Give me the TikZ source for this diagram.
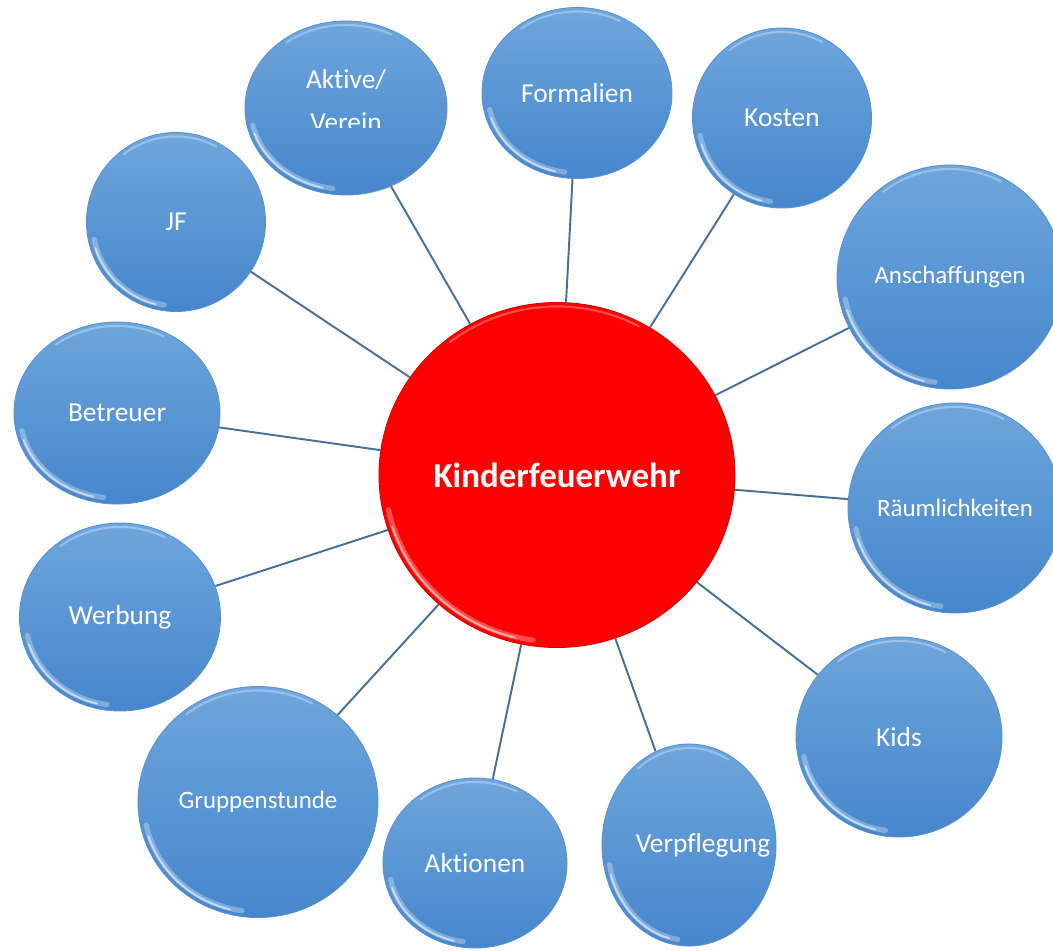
\documentclass[tikz,border=0pt]{standalone}
\usepackage{fontspec}
\setmainfont{Carlito}[Ligatures=NoCommon]
\usetikzlibrary{shapes.geometric,calc}
\definecolor{bubbletop}{HTML}{6EA6DD}
\definecolor{bubblebot}{HTML}{4686CC}
\definecolor{bubbleedge}{HTML}{5A92CD}
\definecolor{linkblue}{HTML}{46709A}
\definecolor{kfwred}{HTML}{FF0000}
\newcommand{\btext}[1]{\makebox[0pt]{#1}}
\tikzset{
	bsize/.style 2 args={minimum width=#1*0.02cm, minimum height=#2*0.02cm},
	bubble/.style={ellipse, inner sep=0pt, text=white, top color=bubbletop,
			bottom color=bubblebot, draw=bubbleedge, line width=0.5pt,
			font=\fontsize{15.6}{19}\selectfont},
	smalltext/.style={font=\fontsize{14.2}{17}\selectfont},
	hub/.style={ellipse, inner sep=0pt, fill=kfwred, draw=red!85!black, line width=0.5pt,
			text=white, font=\bfseries\fontsize{19.9}{24}\selectfont},
	link/.style={draw=linkblue, line width=1.1pt},
	glow/.style={white, opacity=0.3, line width=3pt, line cap=round},
	shine/.style={white, opacity=0.55, line width=1.1pt, line cap=round},
	rim/.style={white, opacity=0.3, line width=1.2pt, line cap=round},
}
\begin{document}
\begin{tikzpicture}[x=0.02cm, y=-0.02cm]
	\useasboundingbox (0,0) rectangle (1053,950);
	\clip (0,0) rectangle (1053,950);
	% hub
	\node[hub, bsize={356}{345}] (kfw) at (557,475) {\btext{Kinderfeuerwehr}};
	% topics
	\node[bubble, bsize={202}{174}] (aktive) at (346,108) {};
	\node[bubble, bsize={190}{171}] (formalien) at (577,93) {\btext{Formalien}};
	\node[bubble, bsize={179}{180}] (kosten) at (782,118) {\btext{Kosten}};
	\node[bubble, smalltext, bsize={226}{224}] (anschaffungen) at (950,277) {\btext{Anschaffungen}};
	\node[bubble, smalltext, bsize={214}{210}] (raeume) at (955,508) {\btext{Räumlichkeiten}};
	\node[bubble, bsize={206}{200}] (kids) at (899,737) {\btext{Kids}};
	\node[bubble, bsize={174}{202}] (verpflegung) at (689,845) {\btext{\hspace*{0.56cm}Verpflegung}};
	\node[bubble, bsize={184}{170}] (aktionen) at (475,863) {\btext{Aktionen}};
	\node[bubble, smalltext, bsize={240}{231}] (gruppen) at (258,802) {\btext{Gruppenstunde}};
	\node[bubble, bsize={201}{188}] (werbung) at (120,617) {\btext{Werbung}};
	\node[bubble, bsize={206}{182}] (betreuer) at (117,413) {\btext{Betreuer}};
	\node[bubble, bsize={179}{179}] (jf) at (176,222) {\btext{JF}};
	\begin{scope}
		\clip (245,0) rectangle (447,127);
		\node[text=white, font=\fontsize{15.6}{24.4}\selectfont, align=center] (aktive-t) at (346,101) {Aktive/\\Verein};
	\end{scope}
	% gloss
	\foreach \b in {aktive,formalien,kosten,anschaffungen,raeume,kids,verpflegung,aktionen,gruppen,werbung,betreuer,jf,kfw}{
			\draw[glow] let \p0=(\b.center), \p1=(\b.east), \p2=(\b.north) in
			($(\p0)+(192:{\x1-\x0-3.5pt} and {\y2-\y0-3.5pt})$)
			arc[start angle=192, end angle=262, x radius={\x1-\x0-3.5pt}, y radius={\y2-\y0-3.5pt}];
			\draw[shine] let \p0=(\b.center), \p1=(\b.east), \p2=(\b.north) in
			($(\p0)+(198:{\x1-\x0-3pt} and {\y2-\y0-3pt})$)
			arc[start angle=198, end angle=256, x radius={\x1-\x0-3pt}, y radius={\y2-\y0-3pt}];
			\draw[rim] let \p0=(\b.center), \p1=(\b.east), \p2=(\b.north) in
			($(\p0)+(62:{\x1-\x0-2.5pt} and {\y2-\y0-2.5pt})$)
			arc[start angle=62, end angle=128, x radius={\x1-\x0-2.5pt}, y radius={\y2-\y0-2.5pt}];
		}
	% links
	\foreach \b in {aktive,formalien,kosten,anschaffungen,raeume,kids,verpflegung,aktionen,gruppen,werbung,betreuer,jf}{
			\draw[link] (kfw) -- (\b);
		}
\end{tikzpicture}
\end{document}
